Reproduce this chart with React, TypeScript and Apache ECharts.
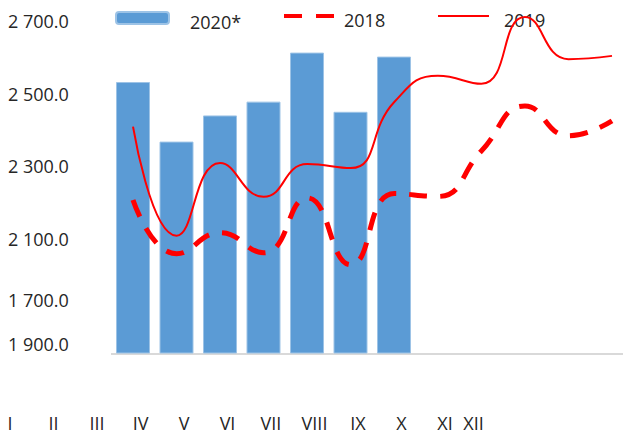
import React, { useEffect, useRef } from "react";
import * as echarts from "echarts";

const months = ["I", "II", "III", "IV", "V", "VI", "VII", "VIII", "IX", "X", "XI", "XII"];
const barMonths = ["IV", "V", "VI", "VII", "VIII", "IX", "X"];
const sales2020 = [2532, 2368, 2440, 2478, 2613, 2450, 2602];
const sales2018 = [2207, 2059, 2117, 2062, 2213, 2029, 2225, 2217, 2342, 2466, 2384, 2425];
const sales2019 = [2409, 2109, 2309, 2216, 2306, 2295, 2477, 2549, 2527, 2711, 2595, 2604];
const yTickValues = [1811, 1932, 2100, 2300, 2500, 2700];
const yTickLabels = ["1 900.0", "1 700.0", "2 100.0", "2 300.0", "2 500.0", "2 700.0"];
const seriesNames = ["2020*", "2018", "2019"];

const FONT = "Open Sans";
const TXT = "#262626";
const RED = "#FF0000";
const Y_MIN = 1786;
const Y_MAX = 2700;

export default function App() {
  const ref = useRef<HTMLDivElement>(null);
  useEffect(() => {
    const chart = echarts.init(ref.current!, null, { renderer: "svg" });
    const legendText = (padLeft: number) => ({
      fontFamily: FONT,
      fontSize: 18,
      color: TXT,
      rich: {
        t: {
          fontFamily: FONT,
          fontSize: 18,
          color: TXT,
          padding: [8, 0, 0, padLeft],
        },
      },
    });
    const legendBase = {
      orient: "horizontal",
      top: 11,
      padding: 0,
      itemHeight: 12,
      formatter: (name: string) => `{t|${name}}`,
    };
    chart.setOption({
      animation: false,
      textStyle: { fontFamily: FONT },
      legend: [
        {
          ...legendBase,
          left: 115,
          itemWidth: 53,
          data: [seriesNames[0]],
          textStyle: legendText(16),
        },
        {
          ...legendBase,
          left: 282,
          itemWidth: 51,
          data: [seriesNames[1]],
          itemStyle: { opacity: 0 },
          lineStyle: { color: RED, width: 4, type: [18, 14] },
          textStyle: legendText(4),
        },
        {
          ...legendBase,
          left: 437,
          itemWidth: 51,
          data: [seriesNames[2]],
          itemStyle: { opacity: 0 },
          lineStyle: { color: RED, width: 2 },
          textStyle: legendText(10),
        },
      ],
      grid: [
        { left: 133, right: 11, top: 21, bottom: 81 },
        { left: 10, right: 134.5, top: 21, bottom: 81 },
        { left: 111.25, width: 304.5, top: 21, bottom: 81 },
      ],
      xAxis: [
        {
          type: "category",
          gridIndex: 0,
          data: months,
          boundaryGap: false,
          axisLine: { show: false },
          axisTick: { show: false },
          axisLabel: { show: false },
        },
        {
          type: "category",
          gridIndex: 1,
          data: months,
          boundaryGap: false,
          axisLine: { show: false },
          axisTick: { show: false },
          axisLabel: {
            interval: 0,
            margin: 61,
            fontFamily: FONT,
            fontSize: 18,
            lineHeight: 18,
            color: TXT,
            formatter: (v: string, i: number) => (i === months.length - 1 ? `{last|${v}}` : v),
            rich: {
              last: {
                fontFamily: FONT,
                fontSize: 18,
                lineHeight: 18,
                color: TXT,
                padding: [0, 30, 0, 0],
              },
            },
          },
        },
        {
          type: "category",
          gridIndex: 2,
          data: barMonths,
          boundaryGap: true,
          axisLine: { show: false },
          axisTick: { show: false },
          axisLabel: { show: false },
        },
      ],
      yAxis: [
        {
          type: "value",
          gridIndex: 0,
          min: Y_MIN,
          max: Y_MAX,
          splitLine: { show: false },
          axisLine: { show: false },
          axisTick: { show: false },
          axisLabel: {
            customValues: yTickValues,
            align: "left",
            margin: 125,
            fontFamily: FONT,
            fontSize: 18,
            color: TXT,
            formatter: (v: number) => {
              const i = yTickValues.indexOf(v);
              return i >= 0 ? yTickLabels[i] : "";
            },
          },
        },
        { type: "value", gridIndex: 1, show: false, min: Y_MIN, max: Y_MAX },
        { type: "value", gridIndex: 2, show: false, min: Y_MIN, max: Y_MAX },
      ],
      graphic: [
        {
          type: "line",
          shape: { x1: 111, y1: 354, x2: 623, y2: 354 },
          style: { stroke: "#d9d9d9", lineWidth: 2 },
          z: 1,
        },
      ],
      series: [
        {
          name: seriesNames[0],
          type: "bar",
          xAxisIndex: 2,
          yAxisIndex: 2,
          data: sales2020,
          barWidth: 34,
          itemStyle: { color: "#5B9BD5", borderColor: "#9DC3E6", borderWidth: 1 },
          z: 2,
        },
        {
          name: seriesNames[1],
          type: "line",
          data: sales2018,
          smooth: 0.5,
          symbol: "none",
          clip: false,
          lineStyle: { color: RED, width: 5, type: [18, 13] },
          itemStyle: { color: RED },
          z: 3,
        },
        {
          name: seriesNames[2],
          type: "line",
          data: sales2019,
          smooth: 0.5,
          symbol: "none",
          clip: false,
          lineStyle: { color: RED, width: 2 },
          itemStyle: { color: RED },
          z: 4,
        },
      ],
    });
    return () => chart.dispose();
  }, []);
  return <div ref={ref} style={{ width: 623, height: 434, position: "absolute", left: 0, top: 0 }} />;
}
